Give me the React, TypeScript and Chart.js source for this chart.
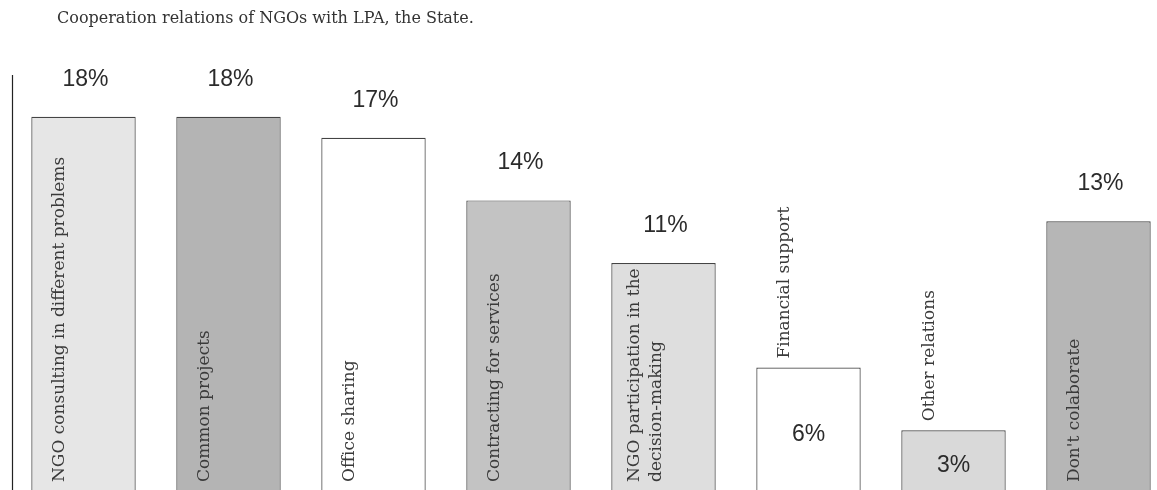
import React, { useEffect, useRef } from "react";
import { Chart, registerables } from "chart.js";

Chart.register(...registerables);

const TITLE = "Cooperation relations of NGOs with LPA, the State.";
const categories: string[][] = [
  ["NGO consulting in different problems"],
  ["Common projects"],
  ["Office sharing"],
  ["Contracting for services"],
  ["NGO participation in the", "decision-making"],
  ["Financial support"],
  ["Other relations"],
  ["Don't colaborate"],
];
const values: number[] = [18, 18, 17, 14, 11, 6, 3, 13];
const barColors: string[] = [
  "#e6e6e6",
  "#b4b4b4",
  "#ffffff",
  "#c3c3c3",
  "#dedede",
  "#ffffff",
  "#d9d9d9",
  "#b6b6b6",
];

const SERIF = "'DejaVu Serif', serif";
const SANS = "'Liberation Sans', Arial, sans-serif";

const labelPlugin = {
  id: "customLabels",
  afterDatasetsDraw(chart: any) {
    const { ctx, chartArea } = chart;
    const meta = chart.getDatasetMeta(0);
    const yScale = chart.scales.y;
    const base = yScale.getPixelForValue(0);
    ctx.save();
    // axis line
    ctx.strokeStyle = "#222";
    ctx.lineWidth = 1.2;
    ctx.beginPath();
    ctx.moveTo(chartArea.left + 1.5, chartArea.top);
    ctx.lineTo(chartArea.left + 1.5, base);
    ctx.stroke();

    meta.data.forEach((bar: any, i: number) => {
      const v = values[i];
      const x = bar.x;
      const top = bar.y;
      const inside = base - top < 140;
      const lines = categories[i];
      // value label
      ctx.fillStyle = "#2b2b2b";
      ctx.font = `23px ${SANS}`;
      ctx.textAlign = "center";
      if (!inside) {
        ctx.textBaseline = "alphabetic";
        ctx.fillText(`${v}%`, x + 2, top - 31);
      } else {
        ctx.textBaseline = "middle";
        ctx.fillText(`${v}%`, x, (top + base) / 2 + 4);
      }
      // category label (rotated)
      ctx.font = `17px ${SERIF}`;
      ctx.fillStyle = "#3a3a3a";
      ctx.textAlign = "left";
      ctx.textBaseline = "alphabetic";
      const startY = inside ? top - 9 : base - 11;
      const lineGap = 22;
      const firstX = lines.length > 1 ? x - 25 : x - 20;
      lines.forEach((ln, j) => {
        ctx.save();
        ctx.translate(firstX + j * lineGap, startY);
        ctx.rotate(-Math.PI / 2);
        ctx.fillText(ln, 0, 0);
        ctx.restore();
      });
    });
    ctx.restore();
  },
};

export default function App() {
  const ref = useRef<HTMLCanvasElement | null>(null);
  useEffect(() => {
    document.body.style.margin = "0";
    const canvas = ref.current!;
    const chart = new Chart(canvas, {
      type: "bar",
      data: {
        labels: categories.map((c) => c.join(" ")),
        datasets: [
          {
            data: values,
            backgroundColor: barColors,
            borderColor: "#444444",
            borderWidth: 1.2,
            borderSkipped: false,
            barPercentage: 0.72,
            categoryPercentage: 1,
          },
        ],
      },
      options: {
        responsive: false,
        animation: false,
        layout: { padding: { left: 11, right: 0, top: 75, bottom: 1 } },
        plugins: {
          legend: { display: false },
          tooltip: { enabled: false },
          title: { display: false },
        },
        scales: {
          x: { display: false },
          y: { display: false, min: 0, max: 20 },
        },
      },
      plugins: [labelPlugin],
    });
    return () => chart.destroy();
  }, []);
  return (
    <div style={{ position: "relative", width: 1157, height: 490, overflow: "hidden", background: "#fff" }}>
      <canvas ref={ref} width={1171} height={494} style={{ position: "absolute", left: 0, top: 0 }} />
      <div
        style={{
          position: "absolute",
          left: 57,
          top: 8,
          fontFamily: SERIF,
          fontSize: 16,
          color: "#333",
          whiteSpace: "nowrap",
        }}
      >
        {TITLE}
      </div>
    </div>
  );
}
